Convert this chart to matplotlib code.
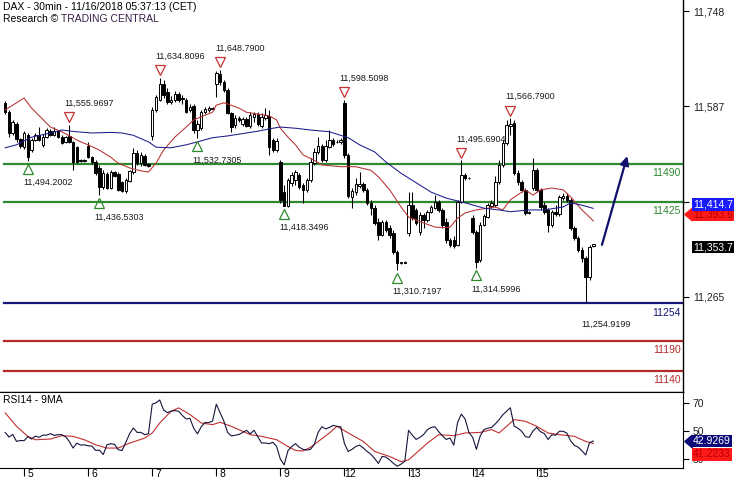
import numpy as np
import matplotlib
matplotlib.use('Agg')
import matplotlib.pyplot as plt
from matplotlib import transforms
from matplotlib.transforms import offset_copy

# DAX 30min candles, 2 Nov (partial) .. 15 Nov 2018, one row of values per trading day
opens = [11593, 11577, 11542, 11557, 11532,
         11518, 11539, 11513, 11530, 11539, 11522, 11535, 11545, 11539, 11545, 11535, 11527, 11537, 11527, 11518, 11496, 11495,
         11520, 11501, 11493, 11483, 11451, 11473, 11449, 11476, 11473, 11459, 11444, 11461, 11476, 11508, 11491, 11503, 11490,
         11537, 11581, 11598, 11625, 11611, 11594, 11598, 11608, 11601, 11598, 11581, 11588, 11547, 11550, 11577, 11581, 11583,
         11625, 11642, 11628, 11615, 11576, 11555, 11567, 11557, 11566, 11554, 11569, 11574, 11554, 11567, 11571, 11530, 11513,
         11493, 11442, 11419, 11458, 11463, 11471, 11454, 11446, 11463, 11491, 11510, 11520, 11496, 11518, 11530, 11527, 11527,
         11593, 11505, 11434, 11442, 11452, 11456, 11446, 11424, 11415, 11392, 11370, 11392, 11382, 11373, 11341, 11322, 11324,
         11373, 11420, 11412, 11375, 11403, 11395, 11409, 11415, 11425, 11412, 11392, 11361, 11361, 11353, 11425, 11471, 11466,
         11398, 11375, 11327, 11387, 11400, 11419, 11420, 11459, 11488, 11525, 11554, 11559, 11474, 11459, 11446, 11407, 11449,
         11479, 11446, 11420, 11412, 11387, 11409, 11405, 11432, 11436, 11429, 11382, 11365, 11344, 11331, 11299, 11351]
highs = [11596, 11581, 11564, 11561, 11534,
         11545, 11542, 11534, 11542, 11552, 11540, 11550, 11549, 11552, 11547, 11539, 11537, 11555.9697, 11528, 11520, 11498, 11498,
         11527, 11503, 11496, 11488, 11479, 11476, 11479, 11478, 11476, 11461, 11466, 11479, 11517, 11513, 11510, 11506, 11491,
         11586, 11606, 11634.8096, 11631, 11618, 11604, 11613, 11611, 11606, 11601, 11591, 11591, 11564, 11581, 11586, 11588, 11586,
         11647, 11648.79, 11631, 11618, 11577, 11572, 11571, 11569, 11569, 11577, 11577, 11577, 11576, 11584, 11581, 11534, 11534,
         11496, 11454, 11466, 11476, 11479, 11474, 11458, 11466, 11500, 11517, 11535, 11523, 11530, 11547, 11534, 11530, 11534,
         11598.5098, 11508, 11449, 11466, 11476, 11459, 11449, 11429, 11420, 11398, 11395, 11395, 11387, 11378, 11344, 11324, 11325,
         11442, 11442, 11415, 11409, 11407, 11412, 11420, 11437, 11429, 11415, 11398, 11365, 11368, 11429, 11495.6904, 11474, 11468,
         11403, 11378, 11392, 11405, 11424, 11429, 11469, 11496, 11530, 11564, 11566.79, 11564, 11479, 11463, 11449, 11410, 11500,
         11483, 11449, 11425, 11415, 11412, 11420, 11437, 11441, 11441, 11432, 11385, 11368, 11350, 11334, 11353, 11355]
lows = [11574, 11535, 11539, 11527, 11517,
        11515, 11494.2002, 11510, 11528, 11528, 11518, 11534, 11537, 11537, 11534, 11523, 11525, 11525, 11479, 11491, 11493, 11493,
        11500, 11490, 11471, 11436.5303, 11447, 11447, 11447, 11468, 11444, 11442, 11441, 11459, 11473, 11488, 11486, 11486, 11485,
        11530, 11577, 11596, 11601, 11591, 11591, 11594, 11594, 11591, 11576, 11577, 11542, 11532.7305, 11547, 11574, 11577, 11581,
        11603, 11623, 11611, 11574, 11544, 11550, 11561, 11554, 11552, 11550, 11561, 11554, 11550, 11564, 11505, 11510, 11510,
        11424, 11418.3496, 11417, 11452, 11454, 11447, 11424, 11442, 11459, 11488, 11506, 11493, 11493, 11517, 11520, 11525, 11523,
        11500, 11432, 11415, 11437, 11449, 11442, 11420, 11403, 11387, 11361, 11368, 11375, 11365, 11338, 11310.7197, 11321, 11322,
        11368, 11395, 11387, 11370, 11382, 11392, 11407, 11414, 11409, 11382, 11356, 11350, 11348, 11351, 11424, 11463, 11464,
        11371, 11314.5996, 11324, 11385, 11398, 11415, 11417, 11456, 11485, 11522, 11539, 11471, 11454, 11442, 11403, 11405, 11446,
        11442, 11412, 11405, 11375, 11383, 11402, 11402, 11429, 11425, 11378, 11361, 11341, 11324, 11254.9199, 11294, 11350]
closes = [11577, 11542, 11561, 11532, 11520,
          11542, 11501, 11530, 11539, 11530, 11535, 11547, 11539, 11545, 11535, 11525, 11535, 11527, 11493, 11493, 11495, 11496,
          11501, 11493, 11474, 11451, 11474, 11449, 11476, 11469, 11446, 11444, 11463, 11478, 11508, 11491, 11505, 11488, 11486,
          11581, 11603, 11625, 11606, 11594, 11598, 11608, 11598, 11599, 11577, 11586, 11547, 11557, 11577, 11583, 11584, 11584,
          11643, 11628, 11615, 11576, 11552, 11567, 11564, 11566, 11554, 11572, 11574, 11557, 11569, 11572, 11518, 11513, 11528,
          11429, 11419, 11463, 11471, 11476, 11451, 11446, 11463, 11493, 11510, 11520, 11496, 11520, 11530, 11523, 11527, 11530,
          11505, 11436, 11444, 11456, 11456, 11446, 11424, 11415, 11390, 11370, 11392, 11378, 11370, 11341, 11322, 11324, 11323,
          11420, 11398, 11390, 11403, 11395, 11409, 11417, 11425, 11412, 11387, 11361, 11353, 11351, 11425, 11471, 11466, 11466,
          11375, 11324, 11387, 11402, 11420, 11424, 11459, 11488, 11525, 11555, 11557, 11474, 11459, 11446, 11407, 11409, 11479,
          11446, 11417, 11409, 11387, 11409, 11405, 11434, 11436, 11429, 11382, 11365, 11344, 11331, 11299, 11350, 11353.7]

# moving averages: (bar index, value)
ma_red_idx = [0, 5, 7, 12, 15, 20, 22, 25, 28, 30, 33, 36, 38, 40, 42, 45, 48, 50, 53, 55, 56, 58, 59, 62, 64, 67, 70,
              72, 73, 75, 77, 79, 82, 84, 89, 93, 97, 99, 102, 105, 107, 111, 114, 117, 118, 120, 122, 125, 127, 130,
              132, 134, 137, 138, 140, 142, 145, 148, 150, 153, 156]
ma_red_val = [11581, 11601, 11584, 11552, 11544, 11527, 11522, 11513, 11501, 11491, 11483, 11478, 11476, 11491, 11513,
              11535, 11552, 11564, 11572, 11577, 11589, 11593, 11591, 11584, 11577, 11574, 11571, 11564, 11550, 11535,
              11522, 11505, 11496, 11488, 11485, 11485, 11479, 11468, 11446, 11417, 11400, 11390, 11383, 11382, 11383,
              11398, 11407, 11412, 11414, 11417, 11412, 11429, 11442, 11446, 11437, 11446, 11449, 11446, 11434, 11412, 11393.6]
ma_blue_idx = [0, 3, 7, 12, 15, 19, 23, 28, 31, 34, 38, 40, 44, 48, 51, 55, 59, 64, 67, 71, 73, 77, 81, 86, 91, 94, 98,
               101, 105, 109, 113, 117, 122, 127, 131, 134, 139, 143, 148, 150, 153, 156]
ma_blue_val = [11517, 11522, 11535, 11542, 11547, 11544, 11542, 11543, 11542, 11538, 11527, 11518, 11517, 11522, 11527,
               11534, 11537, 11542, 11545, 11550, 11552, 11550, 11547, 11544, 11534, 11522, 11510, 11493, 11474, 11458,
               11442, 11432, 11424, 11415, 11412, 11409, 11412, 11412, 11417, 11424, 11420, 11414.7]

rsi = [49, 45.7, 47.6, 42.6, 43.3,
       43.1, 46, 44.3, 46.4, 45.5, 47.1, 47.1, 48.1, 46.9, 47.4, 47.4, 46, 42.6, 37.9, 41.4, 40, 40.2,
       39.5, 39.3, 36.2, 36.4, 33.3, 40.2, 41, 40.5, 36.7, 36.2, 41.9, 48.1, 52.1, 49, 49, 47.4, 48.1,
       69, 70, 72, 65, 63, 64, 64.5, 64, 61, 58.5, 59, 52, 48, 53, 56, 56, 57,
       69, 63, 57, 49, 46.5, 47, 47.5, 49, 50.5, 48, 50.5, 46, 41.5, 41.5, 41, 42, 39,
       30, 26, 36, 39, 41, 38.5, 37, 36.5, 37, 40.5, 49, 53, 51.5, 52.5, 54, 53.3, 53,
       41, 35.5, 37, 39, 40, 38, 35.5, 33.5, 30.5, 27, 32, 31.5, 29.5, 27, 25, 26.5, 28.5,
       50.5, 47, 44, 45.5, 47.5, 51, 52.5, 53, 49.5, 46.5, 44, 45, 40, 56, 62, 58.5, 49,
       45.5, 37, 46.5, 51, 52, 52.5, 55, 58, 61.5, 64, 66.5, 53.5, 52, 49.8, 46, 45.5, 50,
       52.5, 49.5, 48.2, 44, 47.3, 47, 49.8, 49.8, 48.5, 43, 39.8, 38.5, 36, 33, 41.6, 42.9269]
rsi_ma_idx = [0, 3, 6, 8, 12, 15, 18, 21, 24, 27, 30, 33, 37, 39, 41, 44, 46, 49, 52, 55, 57, 60, 65, 68, 72, 75, 77,
              79, 81, 84, 86, 88, 91, 95, 98, 102, 105, 107, 109, 112, 115, 119, 122, 126, 129, 131, 133, 135, 138,
              141, 144, 147, 151, 154, 156]
rsi_ma_val = [62.9, 53.3, 46.2, 43.8, 44.3, 46.7, 46.2, 43.8, 40.2, 37.9, 37.9, 41.4, 45, 48.6, 55.7, 64, 66.4, 61.7,
              55.7, 54.5, 56.2, 53.3, 47.4, 46.2, 43.8, 39, 36.2, 35.8, 38.5, 44.5, 48.6, 53.3, 48.6, 42.6, 35.5, 31.9,
              28.3, 29.5, 34.3, 41.4, 47.4, 46.7, 48.6, 49, 51, 48.6, 53.3, 58.1, 56.9, 53.3, 48.6, 47.4, 46.2, 42.6, 41.2233]

day_start = [5, 22, 39, 56, 73, 90, 107, 124, 141]
day_labels = ['5', '6', '7', '8', '9', '12', '13', '14', '15']

# swing highs / lows marked on the chart
ann_idx = [17, 6, 41, 57, 51, 25, 90, 74, 104, 121, 134, 125, 154]
ann_val = [11555.9697, 11494.2002, 11634.8096, 11648.7900, 11532.7305, 11436.5303, 11598.5098,
           11418.3496, 11310.7197, 11495.6904, 11566.7900, 11314.5996, 11254.9199]
ann_kind = ['high', 'low', 'high', 'high', 'low', 'low', 'high', 'low', 'low', 'high', 'high', 'low', 'low']
ann_marker = [True] * 12 + [False]

# key levels
res_levels = [11490, 11425]
sup_levels = [11254]
sup2_levels = [11190, 11140]

arrow_from = (158.3, 11353)
arrow_to = (165, 11503)

plt.rcParams['font.family'] = ['Liberation Sans', 'DejaVu Sans']
GREEN = '#2f8a2f'
NAVY = '#16167a'
DRED = '#b42a2a'
FS = 7.5

fig = plt.figure(figsize=(7.35, 4.8), dpi=100)
ax = fig.add_axes([0, 1 - 392 / 480, 683 / 735, 392 / 480])
rx = fig.add_axes([0, 1 - 468 / 480, 683 / 735, 76 / 480], sharex=ax)

o = np.array(opens); h = np.array(highs); l = np.array(lows); c = np.array(closes)
x = np.arange(len(o))
up = c >= o
bot = np.minimum(o, c)
hgt = np.abs(c - o)

ax.vlines(x, l, h, color='black', lw=0.75, zorder=3)
ax.bar(x[up], hgt[up], bottom=bot[up], width=0.66, facecolor='white', edgecolor='black', lw=0.7, zorder=4)
ax.bar(x[~up], hgt[~up], bottom=bot[~up], width=0.66, facecolor='black', edgecolor='black', lw=0.7, zorder=4)

ax.plot(ma_red_idx, ma_red_val, color='#b83030', lw=0.75, zorder=5)
ax.plot(ma_blue_idx, ma_blue_val, color='#1c1c8c', lw=0.75, zorder=5)

ytr = transforms.blended_transform_factory(ax.transAxes, ax.transData)
for lev_list, col in [(res_levels, GREEN), (sup_levels, NAVY), (sup2_levels, DRED)]:
    for lev in lev_list:
        ax.axhline(lev, xmin=0.006, xmax=1, color=col, lw=1.6, zorder=2)
        ax.annotate(str(lev), xy=(1, lev), xycoords=ytr, xytext=(-1.5, -6.5), textcoords='offset points',
                    ha='right', va='center', color=col, fontsize=FS)

for i, v, k, m in zip(ann_idx, ann_val, ann_kind, ann_marker):
    sgn = 1 if k == 'high' else -1
    if m:
        t = offset_copy(ax.transData, fig=fig, y=sgn * 5.6, units='points')
        ax.plot([i], [v], marker='v' if k == 'high' else '^', ms=7, mfc='none', mew=0.9,
                color='#c83232' if k == 'high' else '#2f8a2f', transform=t, zorder=6)
    ax.annotate(f'{v:,.4f}', xy=(i, v), xytext=(-3.5, sgn * 15.5), textcoords='offset points',
                ha='left', va='center', fontsize=6.5, color='#1a1a1a', zorder=6)

ax.annotate('', xy=arrow_to, xytext=arrow_from,
            arrowprops=dict(arrowstyle='-|>', color='#10106e', lw=1.6, mutation_scale=13, shrinkA=0, shrinkB=0),
            zorder=7)

ax.set_xlim(-1.38, 179.8)
ax.set_ylim(11104.5, 11766.6)
ax.yaxis.tick_right()
ax.set_yticks([11265, 11426, 11587, 11748])
ax.set_yticklabels(['11,265', '11,426', '11,587', '11,748'])
ax.tick_params(axis='y', length=4, pad=3, labelsize=FS, labelcolor='#222222', width=0.8)
ax.tick_params(axis='x', bottom=False, labelbottom=False)
for s in ['top', 'left']:
    ax.spines[s].set_visible(False)
ax.spines['right'].set_linewidth(1)
ax.spines['bottom'].set_linewidth(1)

# RSI panel
rx.plot(x, rsi, color='#14143c', lw=0.8, zorder=4)
rx.plot(rsi_ma_idx, rsi_ma_val, color='#c03030', lw=0.8, zorder=3)
rx.set_ylim(23.76, 77.66)
rx.yaxis.tick_right()
rx.set_yticks([30, 50, 70])
rx.tick_params(axis='y', length=4, pad=3, labelsize=FS, labelcolor='#222222', width=0.8)
rx.set_xticks(day_start)
rx.set_xticklabels([])
rx.tick_params(axis='x', direction='out', length=6, width=0.8)
rx.spines['left'].set_visible(False)
for d, lab in zip(day_start, day_labels):
    rx.annotate(lab, xy=(d, 0), xycoords=rx.get_xaxis_transform(), xytext=(4.3, -4.6),
                textcoords='offset points', ha='center', va='center', fontsize=FS, annotation_clip=False)
rx.text(0.004, 0.89, 'RSI14 - 9MA', transform=rx.transAxes, fontsize=FS, va='center', ha='left')


def tag(a, value, text, fc, tc, dy=0, arrow=False):
    tr = transforms.blended_transform_factory(a.transAxes, a.transData)
    a.annotate(text, xy=(1, value), xycoords=tr, xytext=(7.3, dy), textcoords='offset points',
               ha='left', va='center', color=tc, fontsize=FS,
               bbox=dict(boxstyle='square,pad=0.13', fc=fc, ec='none'), annotation_clip=False, zorder=10)
    if arrow:
        t = offset_copy(tr, fig=fig, x=3.4, y=dy, units='points')
        a.plot([1], [value], marker=[(-0.6, 0), (0.6, 1), (0.6, -1), (-0.6, 0)], ms=9, color=fc,
               mec=fc, transform=t, clip_on=False, zorder=10)


tag(ax, ma_red_val[-1], f'{ma_red_val[-1]:,.1f}', '#ff1a1a', '#b00000', dy=4.8, arrow=True)
tag(ax, ma_blue_val[-1], f'{ma_blue_val[-1]:,.1f}', '#1a1aff', 'white', dy=2.6)
tag(ax, closes[-1], f'{closes[-1]:,.1f}', 'black', 'white', dy=-1.9)
tag(rx, rsi_ma_val[-1], f'{rsi_ma_val[-1]:.4f}', '#ff1a1a', '#b00000', dy=-8.0)
tag(rx, rsi[-1], f'{rsi[-1]:.4f}', '#0a0a78', 'white', dy=0, arrow=True)

fig.text(3 / 735, 1 - 6.5 / 480, 'DAX - 30min - 11/16/2018 05:37:13 (CET)', fontsize=FS, va='center', ha='left')
t1 = fig.text(3 / 735, 1 - 18.5 / 480, 'Research \u00a9 ', fontsize=FS, va='center', ha='left')
fig.add_artist(matplotlib.text.Annotation('TRADING CENTRAL', xy=(1, 0.5), xycoords=t1, va='center', ha='left',
                                          fontsize=FS, color='#3a1d48'))

fig.savefig('out.png', dpi=100, facecolor='white')
